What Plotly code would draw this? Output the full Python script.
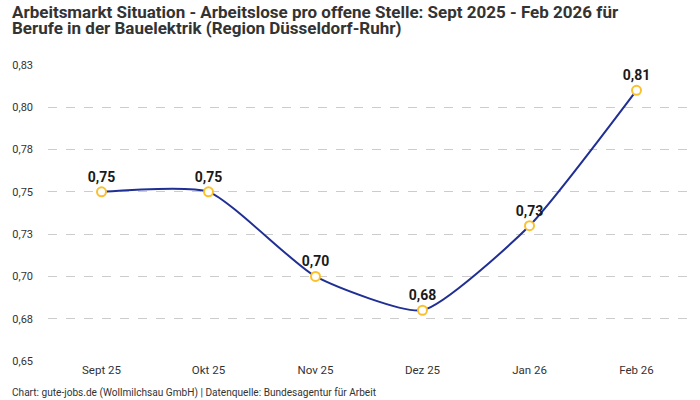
import plotly.graph_objects as go

monate = ["Sept 25", "Okt 25", "Nov 25", "Dez 25", "Jan 26", "Feb 26"]
werte = [0.75, 0.75, 0.70, 0.68, 0.73, 0.81]
wert_labels = ["0,75", "0,75", "0,70", "0,68", "0,73", "0,81"]

y_ticks = [0.65, 0.675, 0.70, 0.725, 0.75, 0.775, 0.80, 0.825]
y_tick_labels = ["0,65", "0,68", "0,70", "0,73", "0,75", "0,78", "0,80", "0,83"]

titel_zeilen = [
    "Arbeitsmarkt Situation - Arbeitslose pro offene Stelle: Sept 2025 - Feb 2026 für",
    "Berufe in der Bauelektrik (Region Düsseldorf-Ruhr)",
]
quelle = "Chart: gute-jobs.de (Wollmilchsau GmbH) | Datenquelle: Bundesagentur für Arbeit"

FONT = "Roboto"

fig = go.Figure()
fig.add_trace(
    go.Scatter(
        x=monate,
        y=werte,
        mode="lines+markers+text",
        line=dict(color="#1f2f94", width=2, shape="spline", smoothing=0.55),
        marker=dict(size=9, color="white", line=dict(color="#fbc12d", width=2)),
        text=wert_labels,
        textposition="top center",
        textfont=dict(family=FONT, size=14, color="#1a1a1a", weight="bold"),
        cliponaxis=False,
        showlegend=False,
    )
)

# Titel: kleine Basisschrift -> enger Zeilenabstand, Zeilen selbst in 17px
titel = "<br>".join(f"<span style='font-size:17px'>{z}</span>" for z in titel_zeilen)

fig.update_layout(
    width=700,
    height=400,
    margin=dict(l=48, r=10, t=65, b=39),
    paper_bgcolor="white",
    plot_bgcolor="white",
    font=dict(family=FONT, color="#333"),
    annotations=[
        dict(
            text=titel,
            xref="paper",
            yref="paper",
            x=-0.059,
            y=1.152,
            xanchor="left",
            yanchor="middle",
            align="left",
            showarrow=False,
            font=dict(family=FONT, size=12.5, color="#333", weight="bold"),
        ),
        dict(
            text=quelle,
            xref="paper",
            yref="paper",
            x=-0.059,
            y=-0.108,
            xanchor="left",
            yanchor="middle",
            showarrow=False,
            font=dict(family=FONT, size=10.1, color="#333"),
        ),
    ],
)

fig.update_xaxes(
    range=[-0.5, 5.5],
    showgrid=False,
    showline=False,
    ticks="",
    tickfont=dict(family=FONT, size=11.5, color="#333"),
)
fig.update_yaxes(
    range=[0.65, 0.825],
    tickvals=y_ticks,
    ticktext=y_tick_labels,
    showgrid=True,
    gridcolor="#cccccc",
    griddash="dash",
    gridwidth=1,
    zeroline=False,
    showline=False,
    ticks="",
    ticklabelstandoff=14,
    tickfont=dict(family=FONT, size=11, color="#333"),
)

fig.write_html(
    "out.html",
    config={"displayModeBar": False},
    post_script="document.body.style.margin='0';",
)
